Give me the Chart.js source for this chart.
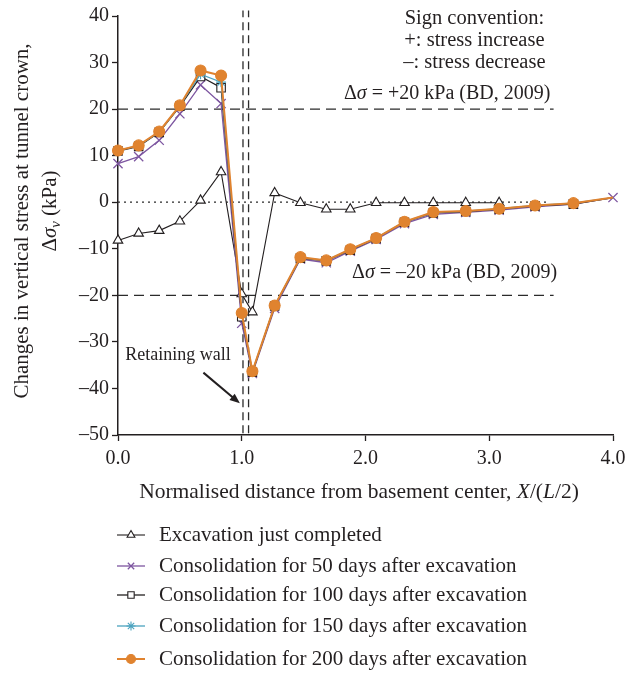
<!DOCTYPE html>
<html>
<head>
<meta charset="utf-8">
<script src="https://cdn.jsdelivr.net/npm/chart.js@4.4.1/dist/chart.umd.min.js"></script>
<style>
  html, body { margin: 0; padding: 0; background: #fff; }
  #wrap { width: 640px; height: 673px; }
</style>
</head>
<body>
<div id="wrap"><canvas id="chart" width="640" height="673"></canvas></div>
<script>
const SERIF = '"Liberation Serif", "Times New Roman", serif';
const INK = '#231f20';

// normalised distance from basement center, X/(L/2)
const distance = [0, 0.167, 0.333, 0.5, 0.667, 0.833, 1.0, 1.086, 1.266, 1.474,
  1.683, 1.877, 2.086, 2.315, 2.548, 2.81, 3.08, 3.37, 3.68, 4.0];

// change in vertical stress at tunnel crown (kPa)
const excavationDone = [-8.2, -6.7, -6.1, -4.1, 0.4, 6.5, -19.7, -23.6, 2.0, -0.1,
  -1.5, -1.5, -0.1, -0.1, -0.1, -0.1, -0.1];
const consol50 = [8.3, 9.8, 13.3, 19.0, 25.2, 21.2, -26.0, -36.8, -22.8, -12.2,
  -13.0, -10.5, -8.0, -4.6, -2.6, -2.2, -1.7, -1.0, -0.4, 1.0];
const consol100 = [11.0, 12.0, 15.0, 20.6, 27.0, 24.6, -24.6, -36.5, -22.3, -12.0,
  -12.6, -10.3, -7.8, -4.3, -2.3, -2.0, -1.5, -0.8, -0.4, 1.0];
const consol150 = [11.1, 12.2, 15.1, 20.8, 27.5, 25.8, -24.0, -36.4, -22.2, -11.9,
  -12.5, -10.2, -7.7, -4.2, -2.2, -1.9, -1.4, -0.7, -0.2, 1.0];
const consol200 = [11.1, 12.2, 15.2, 20.8, 28.3, 27.2, -23.8, -36.3, -22.2, -11.8,
  -12.5, -10.1, -7.7, -4.2, -2.1, -1.9, -1.4, -0.7, -0.2, 1.0];

const seriesLabels = [
  'Excavation just completed',
  'Consolidation for 50 days after excavation',
  'Consolidation for 100 days after excavation',
  'Consolidation for 150 days after excavation',
  'Consolidation for 200 days after excavation'
];

// BD (2009) limits and the two faces of the retaining wall
const stressLimits = [20, -20];
const limitLineEnd = 3.52;
const wallFaces = [1.01, 1.055];

const pts = ys => ys.map((y, i) => ({ x: distance[i], y }));
const noLastMarker = r => ctx => (ctx.dataIndex === ctx.dataset.data.length - 1 ? 0 : r);

function series(label, ys, color, style, extra) {
  return {
    label,
    data: pts(ys),
    borderColor: color,
    backgroundColor: color,
    borderWidth: 1.3,
    pointStyle: style,
    pointRadius: 5,
    pointBorderColor: color,
    pointBackgroundColor: color,
    pointBorderWidth: 1.1,
    tension: 0,
    clip: false,
    isSeries: true,
    ...extra
  };
}

function refLine(data, dash, width) {
  return {
    data,
    borderColor: '#2b2b2b',
    borderWidth: width,
    borderDash: dash,
    pointRadius: 0,
    tension: 0,
    order: 10,
    clip: false
  };
}

const datasets = [
  series(seriesLabels[0], excavationDone, INK, 'triangle',
    { pointBackgroundColor: '#fff', pointRadius: 5.5, borderWidth: 1.1, order: 4 }),
  series(seriesLabels[1], consol50, '#7d56a0', 'crossRot',
    { pointRadius: 6.5, pointBorderWidth: 1.3, order: 3 }),
  series(seriesLabels[2], consol100, INK, 'rect',
    { pointBackgroundColor: '#fff', pointRadius: noLastMarker(6), order: 2 }),
  series(seriesLabels[3], consol150, '#4ba3bf', 'star',
    { pointRadius: noLastMarker(5), order: 1 }),
  series(seriesLabels[4], consol200, '#e0832f', 'circle',
    { pointRadius: noLastMarker(5.5), borderWidth: 2, order: 0 })
];

stressLimits.forEach(v => datasets.push(refLine([{ x: 0, y: v }, { x: limitLineEnd, y: v }], [10, 6], 1.3)));
datasets.push(refLine([{ x: 0, y: 0 }, { x: 3.48, y: 0 }], [2, 4], 1.3));
wallFaces.forEach(x => datasets.push(refLine([{ x, y: -49.6 }, { x, y: 41.2 }], [8, 5], 1.3)));

// draws a line of text whose pieces may be italic or subscript
function richText(ctx, parts, x, y, size, align) {
  const fontFor = p => `${p.i ? 'italic ' : ''}${p.sub ? size * 0.7 : size}px ${SERIF}`;
  let total = 0;
  parts.forEach(p => { ctx.font = fontFor(p); total += ctx.measureText(p.t).width; });
  let cx = align === 'center' ? x - total / 2 : x;
  ctx.textAlign = 'left';
  ctx.textBaseline = 'middle';
  parts.forEach(p => {
    ctx.font = fontFor(p);
    ctx.fillText(p.t, cx, p.sub ? y + size * 0.3 : y);
    cx += ctx.measureText(p.t).width;
  });
}

const annotations = {
  id: 'annotations',
  afterDraw(chart) {
    const { ctx, scales: { x, y } } = chart;
    ctx.save();
    ctx.fillStyle = INK;

    ['Sign convention:', '+: stress increase', '\u2013: stress decrease'].forEach((t, i) =>
      richText(ctx, [{ t }], x.getPixelForValue(2.88), 19 + i * 22, 20.5, 'center'));
    richText(ctx, [{ t: '\u0394' }, { t: '\u03c3', i: true }, { t: ' = +20 kPa (BD, 2009)' }],
      x.getPixelForValue(2.66), y.getPixelForValue(23.2), 20, 'center');
    richText(ctx, [{ t: '\u0394' }, { t: '\u03c3', i: true }, { t: ' = \u201320 kPa (BD, 2009)' }],
      x.getPixelForValue(2.72), y.getPixelForValue(-15.2), 20, 'center');

    // retaining wall label and arrow
    richText(ctx, [{ t: 'Retaining wall' }], x.getPixelForValue(0.485), y.getPixelForValue(-32.8), 18, 'center');
    const x0 = x.getPixelForValue(0.69), y0 = y.getPixelForValue(-36.6);
    const x1 = x.getPixelForValue(0.985), y1 = y.getPixelForValue(-43.2);
    const ang = Math.atan2(y1 - y0, x1 - x0);
    ctx.strokeStyle = INK;
    ctx.lineWidth = 2;
    ctx.beginPath();
    ctx.moveTo(x0, y0);
    ctx.lineTo(x1 - 6 * Math.cos(ang), y1 - 6 * Math.sin(ang));
    ctx.stroke();
    ctx.beginPath();
    ctx.moveTo(x1, y1);
    ctx.lineTo(x1 - 11 * Math.cos(ang - 0.38), y1 - 11 * Math.sin(ang - 0.38));
    ctx.lineTo(x1 - 11 * Math.cos(ang + 0.38), y1 - 11 * Math.sin(ang + 0.38));
    ctx.closePath();
    ctx.fill();

    // axis titles
    richText(ctx, [{ t: 'Normalised distance from basement center, ' }, { t: 'X', i: true },
      { t: '/(' }, { t: 'L', i: true }, { t: '/2)' }], 359, 492, 21.5, 'center');
    ctx.translate(22, 221);
    ctx.rotate(-Math.PI / 2);
    richText(ctx, [{ t: 'Changes in vertical stress at tunnel crown,' }], 0, 0, 21, 'center');
    richText(ctx, [{ t: '\u0394' }, { t: '\u03c3', i: true }, { t: 'v', i: true, sub: true }, { t: ' (kPa)' }],
      10, 28, 21, 'center');
    ctx.restore();
  }
};

// legend below the plot: short line with the series marker, then the label
const sideLegend = {
  id: 'sideLegend',
  afterDraw(chart) {
    const { ctx } = chart;
    const rows = [535, 566, 595, 626, 659];
    ctx.save();
    chart.data.datasets.filter(d => d.isSeries).forEach((d, i) => {
      const yy = rows[i];
      ctx.strokeStyle = d.borderColor;
      ctx.lineWidth = d.borderWidth;
      ctx.beginPath();
      ctx.moveTo(117, yy);
      ctx.lineTo(145, yy);
      ctx.stroke();
      ctx.fillStyle = d.pointBackgroundColor;
      ctx.strokeStyle = d.pointBorderColor;
      ctx.lineWidth = d.pointBorderWidth;
      Chart.helpers.drawPoint(ctx, { pointStyle: d.pointStyle, radius: 4.5, borderWidth: d.pointBorderWidth, rotation: 0 }, 131, yy);
      ctx.fillStyle = INK;
      richText(ctx, [{ t: d.label }], 159, yy, 21, 'left');
    });
    ctx.restore();
  }
};

const tickFont = { family: SERIF, size: 20 };
const axisGrid = { display: true, drawOnChartArea: false, drawTicks: true, tickLength: 6, tickColor: INK, tickWidth: 1.3 };
const axisBorder = { display: true, color: INK, width: 1.5 };

new Chart(document.getElementById('chart'), {
  type: 'line',
  data: { datasets },
  plugins: [annotations, sideLegend],
  options: {
    responsive: false,
    devicePixelRatio: 1,
    animation: false,
    layout: { padding: { top: 16, right: 27, bottom: 168, left: 0 } },
    plugins: { legend: { display: false }, tooltip: { enabled: false } },
    scales: {
      x: {
        type: 'linear', min: 0, max: 4,
        ticks: { stepSize: 1, color: INK, font: tickFont, padding: 6, callback: v => v.toFixed(1) },
        grid: axisGrid, border: axisBorder,
        afterFit: s => { s.height = 70; }
      },
      y: {
        type: 'linear', min: -50, max: 40,
        ticks: { stepSize: 10, color: INK, font: tickFont, padding: 3,
          callback: v => (v < 0 ? '\u2013' + Math.abs(v) : String(v)) },
        grid: axisGrid, border: axisBorder,
        afterFit: s => { s.width = 118; }
      }
    }
  }
});
</script>
</body>
</html>
